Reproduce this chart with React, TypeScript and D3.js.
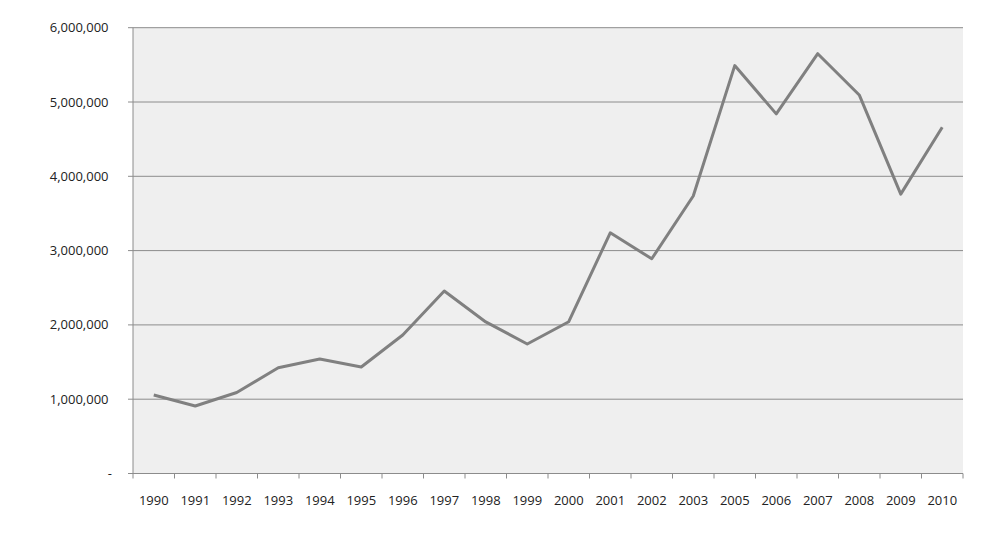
import React from "react";
import * as d3 from "d3";

const years = ["1990","1991","1992","1993","1994","1995","1996","1997","1998","1999","2000","2001","2002","2003","2005","2006","2007","2008","2009","2010"];
const values = [1057000, 908000, 1090000, 1424000, 1541000, 1433000, 1864000, 2456000, 2040000, 1743000, 2043000, 3240000, 2890000, 3735000, 5490000, 4840000, 5650000, 5095000, 3760000, 4660000];
const yTicks = [0, 1000000, 2000000, 3000000, 4000000, 5000000, 6000000];

export default function App() {
  const W = 982, H = 543;
  const left = 133, right = 963, top = 27.7, bottom = 473.5;
  const x = d3.scaleBand().domain(years).range([left, right]);
  const y = d3.scaleLinear().domain([0, 6000000]).range([bottom, top]);
  const fmt = d3.format(",");
  const line = d3.line<number>()
    .x((_, i) => (x(years[i]) as number) + x.bandwidth() / 2)
    .y((d) => y(d));
  const font = "'Open Sans', sans-serif";
  return (
    <svg width={W} height={H} style={{ position: "absolute", left: 0, top: 0 }}>
      <rect x={0} y={0} width={W} height={H} fill="#ffffff" />
      <rect x={left} y={top} width={right - left} height={bottom - top} fill="#efefef" />
      {yTicks.map((t) => (
        <g key={t}>
          {t > 0 && (
            <line x1={left} x2={right} y1={y(t)} y2={y(t)} stroke="#8c8c8c" strokeWidth={1} />
          )}
          <line x1={left - 5} x2={left} y1={y(t)} y2={y(t)} stroke="#8c8c8c" strokeWidth={1} />
          <text
            x={t === 0 ? 112 : 108.5}
            y={y(t)}
            dy="0.35em"
            textAnchor="end"
            fontFamily={font}
            fontSize={13}
            fill="#222"
          >
            {t === 0 ? "-" : fmt(t)}
          </text>
        </g>
      ))}
      <line x1={left} x2={left} y1={top} y2={bottom} stroke="#8c8c8c" strokeWidth={1} />
      <line x1={left} x2={right} y1={bottom} y2={bottom} stroke="#8c8c8c" strokeWidth={1} />
      {years.map((yr, i) => (
        <line key={"t" + yr} x1={x(yr) as number} x2={x(yr) as number} y1={bottom} y2={bottom + 5} stroke="#8c8c8c" />
      ))}
      <line x1={right} x2={right} y1={bottom} y2={bottom + 5} stroke="#8c8c8c" />
      {years.map((yr) => (
        <text
          key={yr}
          x={(x(yr) as number) + x.bandwidth() / 2}
          y={500}
          dy="0.35em"
          textAnchor="middle"
          fontFamily={font}
          fontSize={13}
          fill="#222"
        >
          {yr}
        </text>
      ))}
      <path d={line(values) || ""} fill="none" stroke="#808080" strokeWidth={3} strokeLinejoin="round" />
    </svg>
  );
}
